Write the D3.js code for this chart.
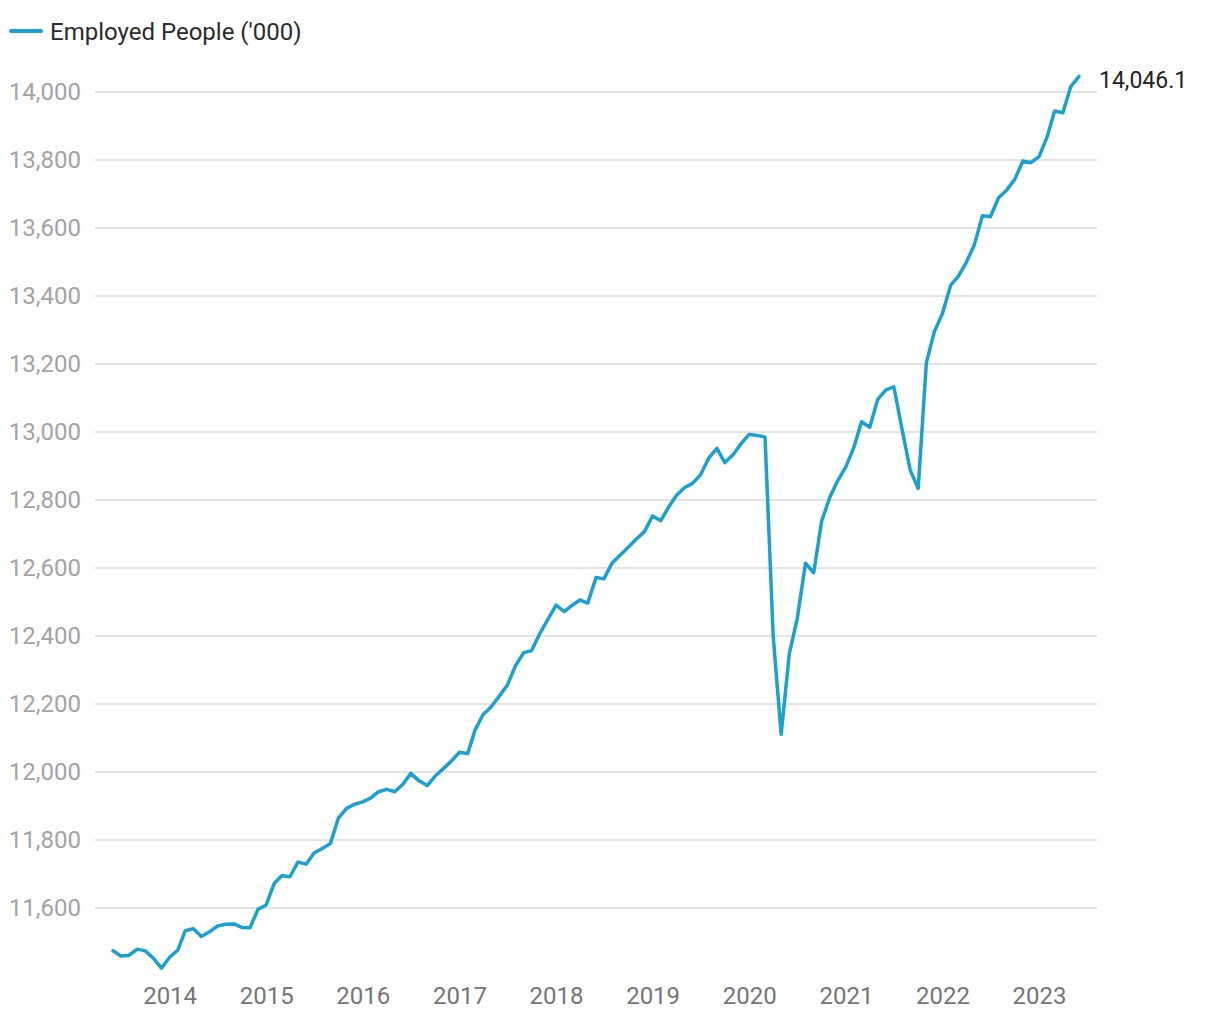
<!DOCTYPE html>
<html>
<head>
<meta charset="utf-8">
<script src="https://cdn.jsdelivr.net/npm/d3@7"></script>
<style>
  html, body { margin: 0; padding: 0; background: #fff; }
  svg { display: block; font-family: Roboto, "Noto Sans", sans-serif; }
</style>
</head>
<body>
<svg id="chart" width="1220" height="1020"></svg>
<script>
const seriesName = "Employed People ('000)";
const startMonth = "2013-06";
const values = [
  // 2013 Jun-Dec
  11474, 11459, 11461, 11479, 11474, 11452, 11423,
  // 2014
  11455, 11476, 11533, 11539, 11516, 11530, 11547, 11552, 11553, 11543, 11542, 11596,
  // 2015
  11609, 11673, 11695, 11692, 11735, 11729, 11762, 11775, 11790, 11864, 11893, 11905,
  // 2016
  11912, 11924, 11942, 11949, 11942, 11964, 11996, 11974, 11960, 11988, 12010, 12032,
  // 2017
  12058, 12054, 12124, 12170, 12192, 12224, 12256, 12313, 12351, 12357, 12408, 12449,
  // 2018
  12491, 12472, 12489, 12506, 12497, 12572, 12568, 12615, 12638, 12661, 12685, 12707,
  // 2019
  12753, 12739, 12777, 12813, 12836, 12849, 12874, 12923, 12952, 12910, 12933, 12965,
  // 2020
  12993, 12990, 12985, 12398, 12111, 12349, 12452, 12614, 12586, 12738, 12808, 12857,
  // 2021
  12898, 12957, 13030, 13014, 13096, 13124, 13133, 13008, 12888, 12834, 13204, 13295,
  // 2022
  13349, 13432, 13457, 13499, 13550, 13636, 13633, 13689, 13712, 13743, 13797, 13792,
  // 2023 Jan-Jun
  13810, 13869, 13944, 13939, 14016, 14046.1
];
const yTicks = [11600, 11800, 12000, 12200, 12400, 12600, 12800, 13000, 13200, 13400, 13600, 13800, 14000];
const xTickYears = [2014, 2015, 2016, 2017, 2018, 2019, 2020, 2021, 2022, 2023];

const parse = d3.timeParse("%Y-%m");
const t0 = parse(startMonth);
const data = values.map((v, i) => ({ date: d3.timeMonth.offset(t0, i), value: v }));

const svg = d3.select("#chart");
const color = "#1ba1cf";

const x = d3.scaleTime()
  .domain([data[0].date, data[data.length - 1].date])
  .range([113, 1079]);
const y = d3.scaleLinear()
  .domain([11600, 14000])
  .range([908, 92]);

// gridlines
svg.append("g")
  .selectAll("line")
  .data(yTicks)
  .join("line")
  .attr("x1", 95).attr("x2", 1097)
  .attr("y1", d => y(d)).attr("y2", d => y(d))
  .attr("stroke", "#e3e3e3")
  .attr("stroke-width", 2);

// y axis labels
const yAxis = d3.axisLeft(y).tickValues(yTicks).tickFormat(d3.format(",")).tickSize(0).tickPadding(0);
const gy = svg.append("g").attr("transform", "translate(81,0)").call(yAxis);
gy.select(".domain").remove();
gy.selectAll("text")
  .attr("fill", "#a3a3a3")
  .style("font-size", "24px")
  .style("font-family", "Roboto, sans-serif");

// x axis labels
const xAxis = d3.axisBottom(x)
  .tickValues(xTickYears.map(yr => new Date(yr, 0, 1)))
  .tickFormat(d3.timeFormat("%Y"))
  .tickSize(0).tickPadding(0);
const gx = svg.append("g").attr("transform", "translate(0,987)").call(xAxis);
gx.select(".domain").remove();
gx.selectAll("text")
  .attr("fill", "#757575")
  .style("font-size", "24px")
  .style("font-family", "Roboto, sans-serif");

// line
const line = d3.line().x(d => x(d.date)).y(d => y(d.value));
svg.append("path")
  .datum(data)
  .attr("fill", "none")
  .attr("stroke", color)
  .attr("stroke-width", 3.5)
  .attr("stroke-linejoin", "round")
  .attr("stroke-linecap", "round")
  .attr("d", line);

// end label
const last = data[data.length - 1];
svg.append("text")
  .attr("x", x(last.date) + 20)
  .attr("y", y(last.value) + 4)
  .attr("dy", "0.35em")
  .attr("fill", "#222")
  .style("font-size", "23px")
  .text(d3.format(",.1f")(last.value));

// legend
svg.append("line")
  .attr("x1", 11).attr("x2", 41)
  .attr("y1", 31).attr("y2", 31)
  .attr("stroke", color)
  .attr("stroke-width", 4)
  .attr("stroke-linecap", "round");
svg.append("text")
  .attr("x", 50).attr("y", 32)
  .attr("dy", "0.35em")
  .attr("fill", "#2a2a2a")
  .style("font-size", "24px")
  .text(seriesName);
</script>
</body>
</html>
